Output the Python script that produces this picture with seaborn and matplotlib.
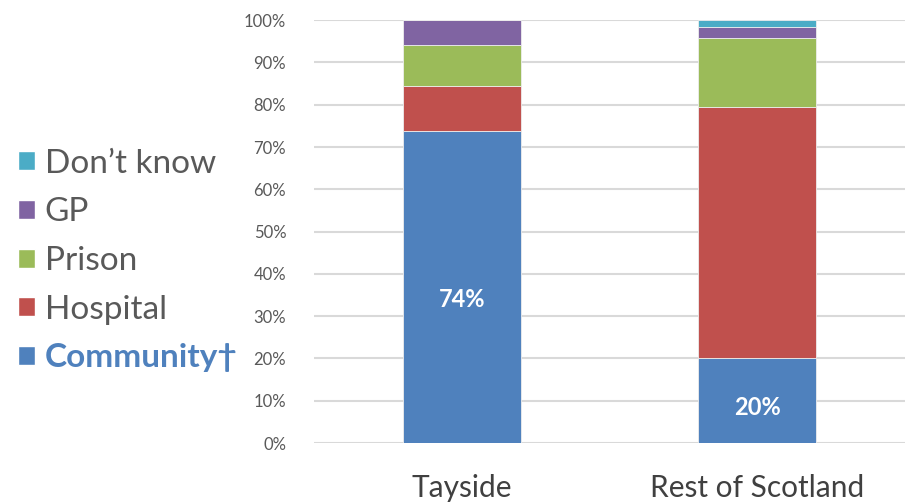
import numpy as np
import pandas as pd
import matplotlib
matplotlib.use("Agg")
import matplotlib.pyplot as plt
import seaborn as sns
from matplotlib.patches import Patch
from matplotlib.ticker import PercentFormatter

# ---------------------------------------------------------
# Data (percent of respondents)
# ---------------------------------------------------------
regions = ["Tayside", "Rest of Scotland"]
community = [73.8, 20.0]
hospital = [10.7, 59.5]
prison = [9.6, 16.2]
gp = [5.9, 2.6]
dont_know = [0.0, 1.7]

series_names = ["Community\u2020", "Hospital", "Prison", "GP", "Don\u2019t know"]
series_values = [community, hospital, prison, gp, dont_know]
series_colors = ["#4F81BD", "#C0504D", "#9BBB59", "#8064A2", "#4BACC6"]

# ---------------------------------------------------------
# Plot
# ---------------------------------------------------------
sns.set_style("white")
plt.rcParams["font.family"] = ["Lato", "DejaVu Sans"]

fig = plt.figure(figsize=(9.06, 5.04), dpi=100)
ax = fig.add_axes([0.3466, 0.121, 0.6523, 0.839])

bottom = np.zeros(len(regions))
for name, vals, color in zip(series_names, series_values, series_colors):
    df = pd.DataFrame({"region": regions, "value": vals})
    sns.barplot(data=df, x="region", y="value", color=color, width=0.4,
                saturation=1, bottom=bottom, ax=ax, edgecolor="#EDEDED",
                linewidth=0.6, zorder=3)
    bottom = bottom + np.array(vals)

# value labels on the community segment
comm_bars = ax.patches[:len(regions)]
for bar, v in zip(comm_bars, community):
    ax.text(bar.get_x() + bar.get_width() / 2, v * 0.46 if v > 50 else v * 0.42,
            f"{v:.0f}%", ha="center", va="center", color="white",
            fontsize=17, fontweight="bold", zorder=4)

ax.set_ylim(0, 100)
ax.set_xlim(-0.5, 1.5)
ax.set_yticks(np.arange(0, 101, 10))
ax.yaxis.set_major_formatter(PercentFormatter(decimals=0))
ax.grid(axis="y", color="#D9D9D9", linewidth=1.5, zorder=0)
ax.set_axisbelow(True)
for s in ax.spines.values():
    s.set_visible(False)
ax.set_xlabel("")
ax.set_ylabel("")
ax.tick_params(axis="y", length=0, pad=20, labelsize=12, labelcolor="#595959")
ax.tick_params(axis="x", length=0, pad=22, labelsize=21.5, labelcolor="#404040")

# legend on the left, top-to-bottom reversed
handles = [Patch(facecolor=c) for c in series_colors][::-1]
labels = series_names[::-1]
leg = fig.legend(handles, labels, loc="center left", bbox_to_anchor=(0.02, 0.483),
                 frameon=False, fontsize=24, handlelength=0.5, handleheight=0.5,
                 handletextpad=0.3, labelspacing=0.56, borderaxespad=0,
                 borderpad=0)
for t in leg.get_texts():
    t.set_color("#595959")
last = leg.get_texts()[-1]
last.set_color("#4F81BD")
last.set_fontweight("bold")

fig.savefig("out.png", dpi=100)
